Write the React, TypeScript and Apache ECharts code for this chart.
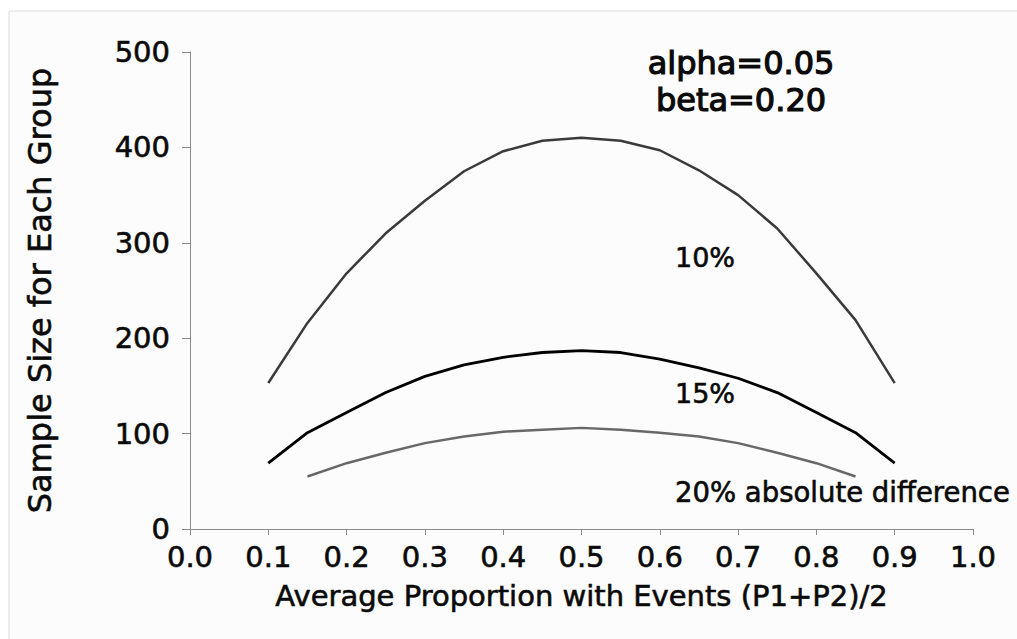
import React, { useEffect, useRef } from "react";
import * as echarts from "echarts";

const proportions = [0.1, 0.15, 0.2, 0.25, 0.3, 0.35, 0.4, 0.45, 0.5, 0.55, 0.6, 0.65, 0.7, 0.75, 0.8, 0.85, 0.9];
const proportions20 = [0.15, 0.2, 0.25, 0.3, 0.35, 0.4, 0.45, 0.5, 0.55, 0.6, 0.65, 0.7, 0.75, 0.8, 0.85];
const n10 = [153, 216, 268, 310, 344, 375, 396, 407, 410, 407, 397, 376, 350, 315, 268, 219, 153];
const n15 = [69, 101, 122, 143, 160, 172, 180, 185, 187, 185, 178, 169, 158, 143, 122, 101, 69];
const n20 = [55, 69, 80, 90, 97, 102, 104, 106, 104, 101, 97, 90, 80, 69, 55];

const xTitle = "Average Proportion with Events (P1+P2)/2";
const yTitle = "Sample Size for Each Group";
const curveLabels = ["10%", "15%", "20% absolute difference"];
const paramLines = ["alpha=0.05", "beta=0.20"];

const FONT = "DejaVu Sans";
const INK = "#0a0a0a";

export default function App() {
  const ref = useRef<HTMLDivElement>(null);
  useEffect(() => {
    if (!ref.current) return;
    const chart = echarts.init(ref.current, undefined, { renderer: "svg" });
    const pair = (xs: number[], ys: number[]) => xs.map((x, i) => [x, ys[i]]);
    const heavy = { textBorderColor: INK, textBorderWidth: 0.6 };
    const annot = (text: string, x: number, y: number, size: number, align: string, border: number) => ({
      type: "text",
      x,
      y,
      style: {
        text,
        fontFamily: FONT,
        fontSize: size,
        fill: INK,
        stroke: INK,
        lineWidth: border,
        align,
        verticalAlign: "middle",
      },
    });
    chart.setOption({
      animation: false,
      backgroundColor: "#ffffff",
      grid: { left: 190, right: 44, top: 52, bottom: 110, containLabel: false },
      xAxis: {
        type: "value",
        min: 0,
        max: 1,
        interval: 0.1,
        name: xTitle,
        nameLocation: "middle",
        nameGap: 52,
        nameTextStyle: { fontFamily: FONT, fontSize: 29, color: INK, ...heavy },
        axisLine: { show: true, lineStyle: { color: "#8a8a8a", width: 1 } },
        axisTick: { show: true, inside: false, length: 6, lineStyle: { color: "#8a8a8a" } },
        axisLabel: {
          fontFamily: FONT,
          fontSize: 29,
          color: INK,
          margin: 13,
          ...heavy,
          formatter: (v: number) => v.toFixed(1),
        },
        splitLine: { show: false },
      },
      yAxis: {
        type: "value",
        min: 0,
        max: 500,
        interval: 100,
        name: yTitle,
        nameLocation: "middle",
        nameGap: 134,
        nameTextStyle: { fontFamily: FONT, fontSize: 32, color: INK, ...heavy },
        axisLine: { show: true, lineStyle: { color: "#8a8a8a", width: 1 } },
        axisTick: { show: true, inside: false, length: 8, lineStyle: { color: "#8a8a8a" } },
        axisLabel: { fontFamily: FONT, fontSize: 29, color: INK, margin: 20, ...heavy },
        splitLine: { show: false },
      },
      graphic: [
        {
          type: "rect",
          z: -10,
          shape: { x: 9, y: 11, width: 1100, height: 700 },
          style: { fill: "#fcfcfc", stroke: "#dcdcdc", lineWidth: 1 },
          silent: true,
        },
        annot(paramLines[0], 741, 63, 32, "center", 1.2),
        annot(paramLines[1], 741, 100, 32, "center", 1.2),
        annot(curveLabels[0], 705, 257, 27, "center", 0.6),
        annot(curveLabels[1], 705, 393, 27, "center", 0.6),
        annot(curveLabels[2], 675, 492, 27.5, "left", 0.6),
      ],
      series: [
        {
          name: "10%",
          type: "line",
          data: pair(proportions, n10),
          showSymbol: false,
          smooth: false,
          lineStyle: { color: "#3a3a3a", width: 2.5 },
        },
        {
          name: "15%",
          type: "line",
          data: pair(proportions, n15),
          showSymbol: false,
          smooth: false,
          lineStyle: { color: "#000000", width: 2.8 },
        },
        {
          name: "20%",
          type: "line",
          data: pair(proportions20, n20),
          showSymbol: false,
          smooth: false,
          lineStyle: { color: "#686868", width: 2.5 },
        },
      ],
    });
    return () => chart.dispose();
  }, []);
  return <div ref={ref} style={{ position: "fixed", left: 0, top: 0, width: 1017, height: 639 }} />;
}
